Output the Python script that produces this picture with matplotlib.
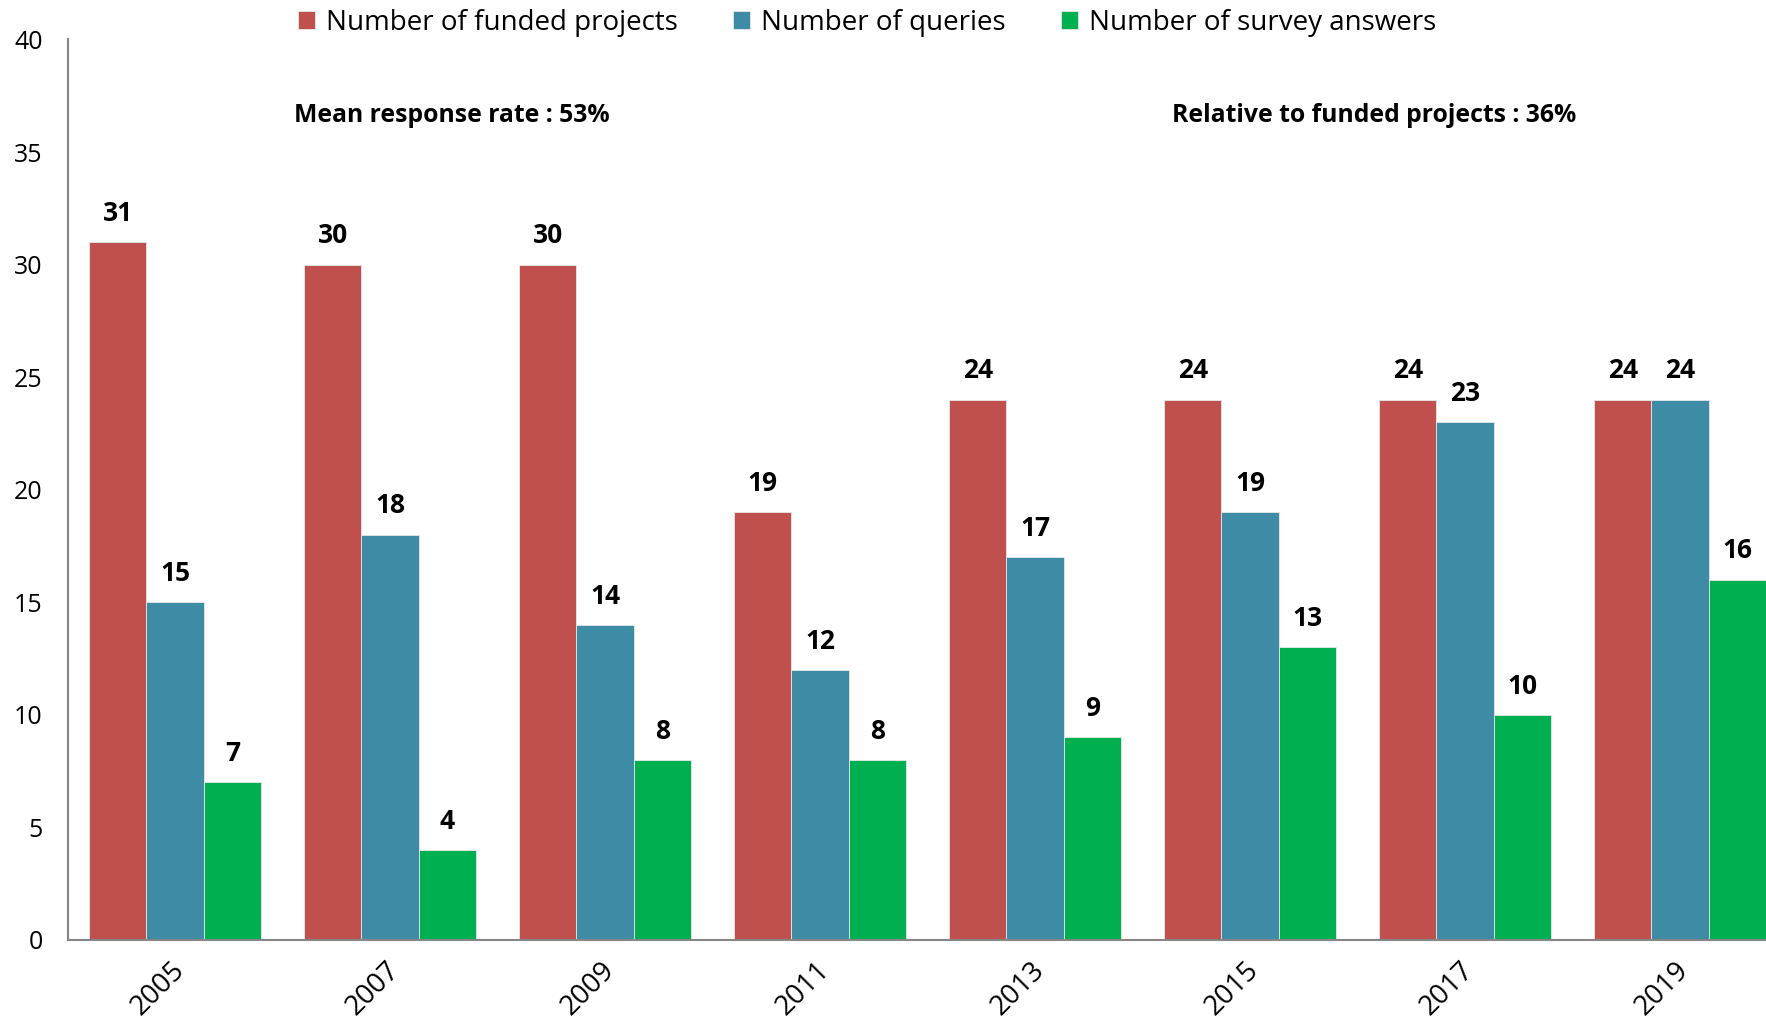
import matplotlib
matplotlib.use("Agg")
import matplotlib.pyplot as plt
import numpy as np

years = ["2005", "2007", "2009", "2011", "2013", "2015", "2017", "2019"]
funded = [31, 30, 30, 19, 24, 24, 24, 24]
queries = [15, 18, 14, 12, 17, 19, 23, 24]
answers = [7, 4, 8, 8, 9, 13, 10, 16]
series_names = ["Number of funded projects", "Number of queries", "Number of survey answers"]
colors = ["#C0504D", "#3D8BA5", "#00B050"]
note_left = "Mean response rate : 53%"
note_right = "Relative to funded projects : 36%"

plt.rcParams['font.family'] = ['Open Sans', 'DejaVu Sans']

fig = plt.figure(figsize=(17.66, 10.30), dpi=100)
ax = fig.add_axes([0.0383, 0.0874, 0.9617, 0.8743])

x = np.arange(len(years))
w = 0.8 / 3
handles = []
for i, (vals, name, c) in enumerate(zip([funded, queries, answers], series_names, colors)):
    bars = ax.bar(x + (i - 1) * w, vals, width=w, color=c, edgecolor="#E8E8E8",
                  linewidth=0.6, label=name)
    handles.append(bars)
    for xi, v in zip(x + (i - 1) * w, vals):
        ax.annotate(str(v), (xi, v), xytext=(0, 11), textcoords="offset points",
                    ha="center", va="bottom", fontsize=19, fontweight="bold")

ax.set_xlim(-0.5, 7.4)
ax.set_ylim(0, 40)
ax.set_yticks(np.arange(0, 41, 5))
ax.tick_params(axis="y", length=0, labelsize=18, pad=18)
ax.tick_params(axis="x", length=0, labelsize=20, pad=10)
ax.set_xticks(x)
ax.set_xticklabels(years, rotation=45, ha="right", va="center", rotation_mode="anchor")
for lab in ax.get_xticklabels():
    lab.set_transform(lab.get_transform() + matplotlib.transforms.ScaledTranslation(0.05, -0.12, fig.dpi_scale_trans))

for s in ["top", "right"]:
    ax.spines[s].set_visible(False)
for s in ["left", "bottom"]:
    ax.spines[s].set_color("#868686")
    ax.spines[s].set_linewidth(1.5)

ax.text(0.1333, 0.916, note_left, transform=ax.transAxes, ha="left", va="center",
        fontsize=17.8, fontweight="bold")
ax.text(0.650, 0.916, note_right, transform=ax.transAxes, ha="left", va="center",
        fontsize=17.8, fontweight="bold")

fig.legend(handles=handles, labels=series_names, loc="center", bbox_to_anchor=(0.491, 0.978),
           ncol=3, frameon=False, fontsize=20, handlelength=0.6, handleheight=0.6,
           handletextpad=0.4, columnspacing=2.0)

fig.savefig("out.png", dpi=100)
